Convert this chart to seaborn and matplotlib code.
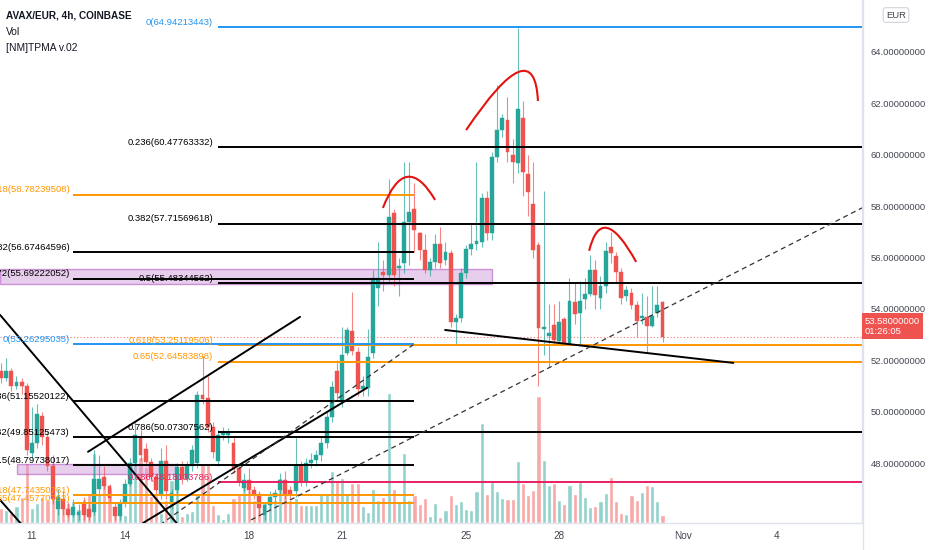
import matplotlib
matplotlib.use("Agg")
import matplotlib.pyplot as plt
import matplotlib.transforms as mtransforms
from matplotlib.patches import PathPatch, Rectangle
from matplotlib.path import Path
import numpy as np
import pandas as pd
import seaborn as sns

# 4h candles, index 0 = 11 Oct 00:00
candle_idx = list(range(-6, 123))
opens = [51.6, 51.3, 51.6, 51.0, 51.15, 51.0, 48.4, 48.8, 49.85, 49.0,
         47.9, 46.2, 46.6, 46.2, 46.0, 46.0, 46.4, 46.2, 46.1, 47.0,
         47.45, 47.1, 46.3, 45.95, 46.45, 47.2, 48.0, 49.0, 48.55, 48.05,
         47.46, 46.8, 48.1, 46.4, 46.96, 47.85, 47.4, 47.9, 48.0, 50.65,
         50.55, 49.4, 48.1, 49.1, 49.1, 48.8, 47.8, 47.05, 47.35, 46.95,
         46.8, 45.98, 46.37, 46.7, 46.96, 47.35, 46.96, 46.9, 47.9, 47.27,
         48.0, 48.12, 48.3, 48.8, 49.8, 51.6, 50.4, 52.3, 53.15, 52.33,
         50.9, 50.93, 52.29, 54.82, 55.44, 55.32, 57.74, 55.6, 55.79, 57.39,
         57.89, 56.96, 56.3, 55.5, 55.83, 56.53, 55.9, 56.18, 53.5, 53.65,
         55.4, 56.33, 56.53, 56.6, 58.32, 56.96, 59.91, 60.96, 61.35, 60.0,
         59.68, 61.43, 59.25, 58.09, 56.5, 53.22, 52.95, 53.38, 52.75, 53.61,
         52.64, 54.27, 53.84, 54.39, 54.58, 55.52, 54.43, 54.89, 56.41, 56.06,
         55.44, 54.51, 54.62, 54.16, 53.65, 53.69, 53.34, 53.84, 54.27]
highs = [51.9, 52.1, 51.7, 51.4, 51.3, 51.1, 50.2, 50.3, 50.0, 49.3,
         48.3, 47.0, 46.9, 46.5, 46.6, 46.4, 46.7, 46.4, 48.5, 48.3,
         47.9, 47.2, 46.5, 46.6, 47.4, 48.2, 49.6, 49.3, 48.8, 48.2,
         47.6, 48.6, 48.7, 47.0, 48.0, 48.1, 48.1, 48.7, 50.8, 52.15,
         51.4, 49.6, 49.3, 49.4, 49.35, 49.0, 48.0, 47.6, 47.8, 47.1,
         46.9, 46.5, 46.9, 47.0, 47.6, 47.7, 47.1, 49.0, 48.1, 48.2,
         48.4, 48.5, 49.0, 50.0, 51.2, 52.0, 53.3, 53.3, 54.65, 52.5,
         51.4, 53.2, 55.5, 56.6, 55.9, 59.06, 57.9, 56.0, 59.72, 59.72,
         58.9, 57.0, 56.9, 56.0, 56.9, 57.2, 56.6, 56.3, 53.8, 55.6,
         56.5, 57.3, 59.7, 58.5, 58.6, 60.1, 62.7, 61.6, 62.25, 60.6,
         64.94, 62.1, 60.0, 59.7, 56.6, 58.6, 54.2, 54.2, 54.3, 53.7,
         55.2, 55.0, 55.1, 55.2, 56.1, 55.9, 55.3, 56.6, 57.0, 56.2,
         55.6, 54.9, 54.8, 54.3, 54.6, 54.5, 54.9, 54.9, 54.3]
lows = [51.1, 51.2, 50.8, 50.9, 50.7, 48.3, 48.2, 48.6, 48.7, 47.7,
        46.4, 46.0, 46.0, 45.9, 45.9, 45.8, 45.8, 45.8, 46.0, 46.8,
        47.0, 46.5, 45.8, 45.8, 46.3, 47.1, 47.9, 48.1, 47.9, 47.3,
        46.8, 46.6, 46.6, 46.2, 46.8, 47.2, 47.3, 47.7, 47.8, 50.3,
        49.2, 48.2, 47.9, 48.9, 48.8, 47.6, 47.1, 46.9, 46.8, 46.6,
        46.0, 45.8, 46.2, 46.5, 46.8, 46.6, 46.6, 46.7, 47.1, 47.1,
        47.8, 47.9, 48.1, 48.6, 49.6, 50.4, 50.2, 52.2, 52.2, 50.6,
        50.6, 50.6, 52.1, 54.1, 54.7, 55.0, 54.9, 54.5, 55.4, 55.7,
        56.2, 55.9, 55.4, 55.3, 55.6, 55.6, 55.7, 53.3, 52.6, 53.5,
        55.2, 56.1, 56.3, 56.4, 56.7, 56.7, 59.7, 60.7, 59.7, 58.9,
        59.3, 58.4, 57.6, 56.0, 51.0, 52.2, 51.74, 52.6, 52.6, 52.6,
        52.6, 53.4, 52.6, 54.0, 54.5, 54.0, 54.0, 54.6, 55.8, 55.0,
        54.2, 54.3, 54.0, 52.9, 53.4, 52.3, 53.3, 53.7, 52.7]
closes = [51.3, 51.6, 51.0, 51.15, 51.0, 48.5, 48.8, 49.9, 49.0, 47.9,
          46.6, 46.7, 46.2, 46.0, 46.3, 46.1, 46.0, 45.9, 47.4, 47.4,
          47.1, 46.65, 45.95, 46.45, 47.2, 48.0, 49.1, 48.3, 48.05, 47.46,
          46.96, 48.1, 46.9, 46.85, 47.85, 47.4, 47.9, 48.5, 50.65, 50.5,
          49.4, 48.45, 49.1, 49.2, 49.15, 47.8, 47.3, 47.35, 46.95, 46.75,
          46.26, 46.37, 46.7, 46.85, 47.35, 46.76, 46.76, 47.9, 47.3, 48.0,
          48.12, 48.3, 48.8, 49.8, 50.96, 50.73, 52.2, 53.18, 52.35, 50.9,
          51.0, 52.13, 55.21, 55.21, 55.32, 57.58, 55.32, 55.65, 57.39, 57.77,
          57.07, 56.3, 55.5, 55.83, 56.53, 55.79, 56.2, 53.49, 53.65, 55.4,
          56.33, 56.53, 56.65, 58.32, 56.96, 59.91, 60.96, 61.43, 60.11, 59.72,
          61.78, 59.33, 58.55, 56.3, 53.26, 53.3, 53.07, 52.79, 53.49, 52.64,
          54.31, 53.81, 54.31, 54.58, 55.52, 54.54, 54.89, 56.26, 56.18, 55.44,
          54.43, 54.74, 54.16, 53.53, 53.69, 53.34, 53.73, 54.16, 52.91]
volumes = [15, 13, 10, 17, 26, 60, 15, 20, 26, 23,
           60, 28, 20, 20, 22, 14, 24, 30, 70, 30,
           46, 36, 16, 10, 8, 53, 73, 66, 56, 27,
           28, 10, 23, 43, 53, 7, 10, 12, 30, 60,
           60, 18, 9, 4, 10, 25, 30, 43, 33, 23,
           30, 20, 22, 23, 45, 30, 23, 25, 18, 18,
           18, 18, 30, 30, 52, 43, 45, 30, 40, 40,
           17, 11, 34, 23, 26, 130, 34, 22, 70, 23,
           28, 19, 25, 7, 20, 6, 13, 28, 19, 22,
           14, 13, 32, 100, 29, 41, 32, 25, 24, 24,
           62, 40, 28, 33, 127, 63, 38, 40, 23, 19,
           38, 29, 41, 26, 16, 17, 22, 30, 46, 22,
           10, 9, 28, 23, 31, 38, 37, 22, 8]

date_ticks = [0, 18, 42, 60, 84, 102, 126, 144]
date_labels = ["11", "14", "18", "21", "25", "28", "Nov", "4"]
price_ticks = [48, 50, 52, 54, 56, 58, 60, 62, 64]

# Fibonacci retracement, right tool (anchored at candle 36)
fib_a_levels = ["0", "0.236", "0.382", "0.5", "0.618", "0.65", "0.786", "0.886"]
fib_a_values = ["64.94213443", "60.47763332", "57.71569618", "55.48344562",
                "53.25119506", "52.64583898", "50.07307562", "48.18133786"]
fib_a_y = [64.97, 60.30, 57.31, 55.01, 52.60, 51.94, 49.21, 47.27]
fib_a_colors = ["#2196f3", "black", "black", "black", "#ff9800", "#ff9800", "black", "#e91e63"]
fib_a_start = 36

# Fibonacci retracement, left tool (candles 8 to 74)
fib_b_levels = ["-0.618", "-0.382", "-0.272", "0", "0.236", "0.382", "0.5", "0.618", "0.65"]
fib_b_values = ["58.78239508", "56.67464596", "55.69222052", "53.26295035", "51.15520122",
                "49.85125473", "48.79738017", "47.74350761", "47.45770762"]
fib_b_y = [58.44, 56.22, 55.17, 52.64, 50.42, 49.02, 47.93, 46.76, 46.45]
fib_b_colors = ["#ff9800", "black", "black", "#2196f3", "black", "black", "black", "#ff9800", "#ff9800"]
fib_b_start, fib_b_end = 8, 74

# zones: (x0, x1, p0, p1)
zone_1 = (-6.2, 89.0, 54.97, 55.56)
zone_2 = (-2.9, 28.1, 47.58, 47.97)

# trend lines: (x0, p0, x1, p1)
solid_lines = [(-6.19, 53.77, 28.26, 45.60),
               (-6.19, 46.57, -1.94, 45.60),
               (10.84, 48.44, 51.87, 53.69),
               (21.48, 45.67, 64.83, 50.93),
               (79.93, 53.18, 135.7, 51.90)]
dashed_lines = [(24.77, 45.60, 73.74, 52.60),
                (42.38, 45.79, 160.6, 57.93)]

# head and shoulders arcs: start, top, end
arcs = [[(67.9, 57.93), (72.6, 59.14), (78.0, 58.24)],
        [(84.0, 60.96), (94.1, 63.22), (97.9, 62.09)],
        [(107.8, 56.26), (111.3, 57.15), (116.9, 55.83)]]

UP, DOWN = "#26a69a", "#ef5350"

sns.set_theme(style="white")
plt.rcParams["font.family"] = ["Liberation Sans", "DejaVu Sans"]

df = pd.DataFrame({"idx": candle_idx, "open": opens, "high": highs,
                   "low": lows, "close": closes, "volume": volumes})
df["dir"] = np.where(df["close"] >= df["open"], "up", "down")

fig = plt.figure(figsize=(9.32, 5.5), dpi=100)
fig.patch.set_facecolor("white")
ax = fig.add_axes([0, 27 / 550, 862 / 932, 523 / 550])
axv = ax.twinx()
ax.set_zorder(2)
axv.set_zorder(1)
ax.patch.set_visible(False)

# volume
sns.barplot(data=df, x="idx", y="volume", hue="dir", native_scale=True,
            palette={"up": "#92d2cc", "down": "#f7a9a7"}, width=0.8,
            dodge=False, errorbar=None, legend=False, ax=axv, saturation=1)
axv.set_ylim(0, 523)
axv.axis("off")

xmin, xmax = -6.19, 160.6

# zones
for x0, x1, p0, p1 in [zone_1, zone_2]:
    ax.add_patch(Rectangle((x0, p0), x1 - x0, p1 - p0, facecolor="#ce93d8",
                           edgecolor="#9c27b0", alpha=0.45, lw=1.0, zorder=1))

# candles
colors = np.where(df["dir"] == "up", UP, DOWN)
ax.vlines(df["idx"], df["low"], df["high"], colors=colors, lw=0.8, alpha=0.7, zorder=3)
body = (df["close"] - df["open"]).where((df["close"] - df["open"]).abs() > 0.05, 0.06)
ax.bar(df["idx"], body, bottom=df["open"], width=0.75, color=colors,
       edgecolor=colors, lw=0.3, zorder=3)

# fib lines
for lvl, val, y, col in zip(fib_a_levels, fib_a_values, fib_a_y, fib_a_colors):
    ax.hlines(y, fib_a_start, xmax, colors=col, lw=1.4, zorder=4)
    ax.annotate(f"{lvl}({val})", xy=(fib_a_start, y), xytext=(-3.5, 3.5),
                textcoords="offset points", ha="right", va="center",
                color=col, fontsize=6.8, zorder=5)
for lvl, val, y, col in zip(fib_b_levels, fib_b_values, fib_b_y, fib_b_colors):
    ax.hlines(y, fib_b_start, fib_b_end, colors=col, lw=1.4, zorder=4)
    t = ax.annotate(f"{lvl}({val})", xy=(fib_b_start, y), xytext=(-2.5, 3.5),
                    textcoords="offset points", ha="right", va="center",
                    color=col, fontsize=6.8, zorder=5, annotation_clip=False)
    t.set_clip_on(True)

# trend lines
for x0, p0, x1, p1 in solid_lines:
    ax.plot([x0, x1], [p0, p1], color="black", lw=1.4, zorder=4)
for x0, p0, x1, p1 in dashed_lines:
    ax.plot([x0, x1], [p0, p1], color="#333333", lw=0.9, ls=(0, (4, 3)), zorder=4)

# arcs through three points
for (s, m, e) in arcs:
    s, m, e = np.array(s), np.array(m), np.array(e)
    ctrl = 2 * m - (s + e) / 2
    path = Path([s, ctrl, e], [Path.MOVETO, Path.CURVE3, Path.CURVE3])
    ax.add_patch(PathPatch(path, fill=False, edgecolor="#e3140f", lw=1.5, zorder=5))

# last price line and label
last = df["close"].iloc[-1]
ax.axhline(last, color=DOWN, lw=0.8, ls=(0, (1, 2)), alpha=0.8, zorder=2)
trans = mtransforms.blended_transform_factory(ax.transAxes, ax.transData)
ax.text(1.0 + 3 / 862, last + 0.42, "53.58000000\n01:26:05", transform=trans,
        ha="left", va="center", fontsize=6.8, color="white", linespacing=1.15,
        bbox=dict(boxstyle="square,pad=0.35", fc=DOWN, ec="none"), clip_on=False)

ax.set_xlim(xmin, xmax)
ax.set_ylim(45.67, 66.02)
ax.yaxis.tick_right()
ax.set_yticks(price_ticks)
ax.set_yticklabels([f"{p:.8f}" for p in price_ticks])
ax.set_xticks(date_ticks)
ax.set_xticklabels(date_labels)
ax.tick_params(axis="y", length=0, pad=6, labelsize=6.8, labelcolor="#434651")
ax.tick_params(axis="x", length=0, pad=6, labelsize=7.2, labelcolor="#434651")
ax.set_xlabel("")
ax.set_ylabel("")
for side in ["top", "left"]:
    ax.spines[side].set_visible(False)
for side in ["right", "bottom"]:
    ax.spines[side].set_color("#e0e3eb")
    ax.spines[side].set_linewidth(1)
fig.add_artist(plt.Line2D([863 / 932, 863 / 932], [0, 1], color="#e0e3eb", lw=1))

fig.text(6 / 932, 1 - 16 / 550, "AVAX/EUR, 4h, COINBASE", fontsize=7.2,
         weight="bold", color="#131722", va="center")
fig.text(6 / 932, 1 - 32 / 550, "Vol", fontsize=7.4, color="#131722", va="center")
fig.text(6 / 932, 1 - 48 / 550, "[NM]TPMA v.02", fontsize=7.4, color="#131722", va="center")
fig.text(896 / 932, 1 - 15 / 550, "EUR", fontsize=6.8, color="#434651", ha="center",
         va="center", bbox=dict(boxstyle="round,pad=0.3", fc="white", ec="#d1d4dc", lw=0.8))

fig.savefig("out.png", dpi=100)
